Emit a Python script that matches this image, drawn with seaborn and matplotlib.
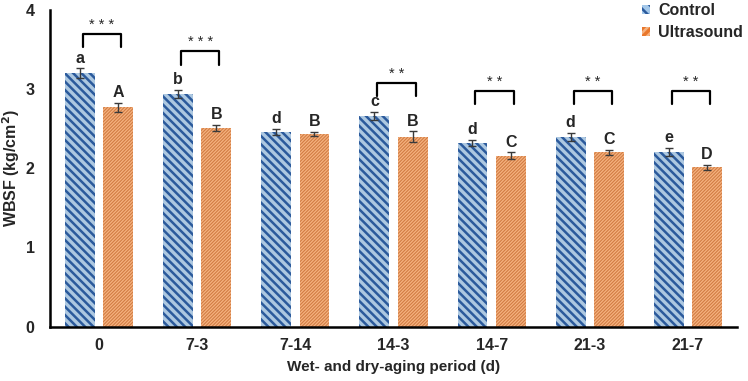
import numpy as np
import pandas as pd
import seaborn as sns
import matplotlib.pyplot as plt
from matplotlib.patches import Patch

# data
periods = ['0', '7-3', '7-14', '14-3', '14-7', '21-3', '21-7']
control = [3.20, 2.94, 2.46, 2.66, 2.32, 2.40, 2.21]
control_err = [0.06, 0.05, 0.04, 0.05, 0.04, 0.05, 0.05]
ultrasound = [2.77, 2.51, 2.43, 2.40, 2.16, 2.20, 2.01]
ultrasound_err = [0.06, 0.04, 0.025, 0.065, 0.04, 0.035, 0.035]
control_letters = ['a', 'b', 'd', 'c', 'd', 'd', 'e']
ultrasound_letters = ['A', 'B', 'B', 'B', 'C', 'C', 'D']
signif = ['* * *', '* * *', '', '* *', '* *', '* *', '* *']

sns.set_style('white')
plt.rcParams['font.family'] = ['Liberation Sans', 'DejaVu Sans']
plt.rcParams['font.weight'] = 'bold'
plt.rcParams['hatch.linewidth'] = 1.8

df = pd.DataFrame({
    'Period': periods * 2,
    'Treatment': ['Control'] * len(periods) + ['Ultrasound'] * len(periods),
    'WBSF': control + ultrasound,
})

fig = plt.figure(figsize=(7.48, 3.81), dpi=100)
ax = fig.add_axes([0.0668, 0.143, 0.9185, 0.831])

fills = {'Control': '#A4C8EA', 'Ultrasound': '#E9772B'}
hatch_cols = ['#2B5A9C', '#F5B27F']
hatches = ['\\\\\\\\', '//////////']
hatch_lws = [1.8, 0.9]

sns.barplot(data=df, x='Period', y='WBSF', hue='Treatment', palette=fills,
            width=0.78, gap=0.22, errorbar=None, legend=False, ax=ax)

errs = [control_err, ultrasound_err]
letters = [control_letters, ultrasound_letters]
bar_conts = list(ax.containers)[:2]
centers = []
for k, cont in enumerate(bar_conts):
    xs = []
    for bar in cont:
        bar.set_hatch(hatches[k])
        bar.set_edgecolor(hatch_cols[k])
        bar.set_linewidth(0)
        if hasattr(bar, 'set_hatch_linewidth'):
            bar.set_hatch_linewidth(hatch_lws[k])
        xs.append(bar.get_x() + bar.get_width() / 2)
    tops = [b.get_height() for b in cont]
    ax.errorbar(xs, tops, yerr=errs[k], fmt='none', ecolor='#3a3a3a',
                elinewidth=1, capsize=3, capthick=1, zorder=5)
    for x, t, e, lab in zip(xs, tops, errs[k], letters[k]):
        ax.annotate(lab, (x, t + e), xytext=(0, 2), textcoords='offset points',
                    ha='center', va='bottom', fontsize=11.5, fontweight='bold')
    centers.append(xs)

# significance brackets
bracket_y = [3.53, 3.31, None, 2.91, 2.81, 2.81, 2.81]
bh = 0.17
for i, s in enumerate(signif):
    if not s:
        continue
    x1 = centers[0][i] + 0.03
    x2 = centers[1][i] + 0.03
    y0 = bracket_y[i]
    ax.plot([x1, x1, x2, x2], [y0, y0 + bh, y0 + bh, y0], color='black', lw=1.6)
    ax.text((x1 + x2) / 2, y0 + bh + 0.02, s, ha='center', va='bottom',
            fontsize=10.5, fontweight='normal')

ax.set_ylim(0, 4)
ax.set_xlim(-0.5, 6.5)
ax.set_yticks([0, 1, 2, 3, 4])
ax.tick_params(axis='both', length=0, labelsize=11.5)
ax.tick_params(axis='x', pad=8)
ax.tick_params(axis='y', pad=11)
for lab in ax.get_xticklabels() + ax.get_yticklabels():
    lab.set_fontweight('bold')
ax.set_xlabel('Wet- and dry-aging period (d)', fontsize=11, fontweight='bold', labelpad=5)
ax.set_ylabel('WBSF (kg/cm$^\\mathbf{2}$)', fontsize=11.5, fontweight='bold')
ax.yaxis.set_label_coords(-0.041, 0.5)
sns.despine(ax=ax)
for sp in ['left', 'bottom']:
    ax.spines[sp].set_linewidth(1.8)
    ax.spines[sp].set_color('black')

handles = [Patch(facecolor=fills['Control'], edgecolor=hatch_cols[0], hatch='\\\\\\', lw=0, label='Control'),
           Patch(facecolor=fills['Ultrasound'], edgecolor=hatch_cols[1], hatch='////', lw=0, label='Ultrasound')]
leg = fig.legend(handles=handles, loc='upper right', bbox_to_anchor=(1.006, 1.018), frameon=False,
                 prop={'size': 11.5, 'weight': 'bold'}, handlelength=0.5, handleheight=0.5,
                 handletextpad=0.5, labelspacing=0.45, borderpad=0.1)

fig.savefig('out.png', dpi=100)
